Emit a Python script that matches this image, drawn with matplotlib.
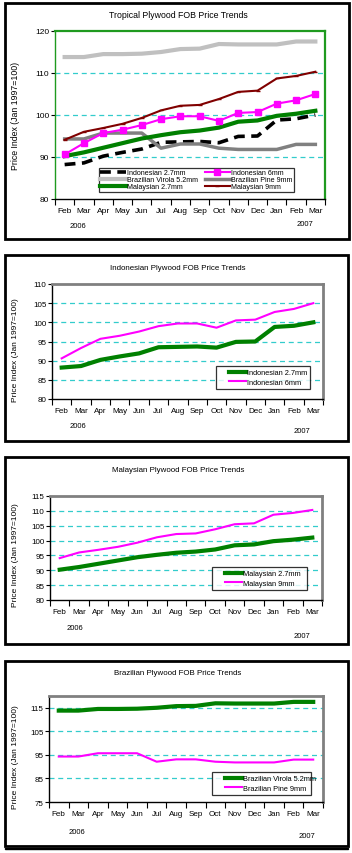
import numpy as np
import matplotlib
matplotlib.use('Agg')
import matplotlib.pyplot as plt
from matplotlib.patches import Rectangle
from matplotlib.lines import Line2D
from matplotlib.legend_handler import HandlerLine2D

W, H = 352, 854

months = ['Feb', 'Mar', 'Apr', 'May', 'Jun', 'Jul', 'Aug', 'Sep', 'Oct', 'Nov', 'Dec', 'Jan', 'Feb', 'Mar']
indo27 = [88.2, 88.6, 90.2, 91.1, 91.9, 93.5, 93.6, 93.7, 93.4, 94.9, 95.0, 98.8, 99.1, 100.0]
indo6 = [90.6, 93.3, 95.7, 96.5, 97.6, 99.0, 99.7, 99.7, 98.6, 100.5, 100.7, 102.7, 103.5, 105.0]
virola = [113.8, 113.8, 114.5, 114.5, 114.6, 115.0, 115.7, 115.8, 116.9, 116.8, 116.8, 116.8, 117.5, 117.5]
pine = [94.3, 94.3, 95.7, 95.7, 95.7, 92.1, 93.1, 93.1, 92.1, 91.8, 91.8, 91.8, 93.0, 93.0]
malay27 = [90.2, 91.1, 92.2, 93.3, 94.4, 95.2, 95.9, 96.3, 97.0, 98.4, 98.7, 99.8, 100.3, 101.0]
malay9 = [94.1, 96.0, 96.9, 97.9, 99.3, 101.1, 102.2, 102.4, 103.8, 105.5, 105.8, 108.7, 109.3, 110.3]

FONT1 = ['Liberation Sans', 'DejaVu Sans']
FONT2 = ['Liberation Sans Narrow', 'Liberation Sans', 'DejaVu Sans']
GRID = '#33cccc'

fig = plt.figure(figsize=(W / 100, H / 100), dpi=100)
fig.patch.set_facecolor('white')


def box(x0, y0, x1, y1):
    return [x0 / W, 1 - y1 / H, (x1 - x0) / W, (y1 - y0) / H]


def frame(x0, y0, x1, y1, lw=2.0):
    fig.patches.append(Rectangle((x0 / W, 1 - y1 / H), (x1 - x0) / W, (y1 - y0) / H,
                                 transform=fig.transFigure, fill=False, ec='black', lw=lw))


def ftext(x, y, s, **kw):
    fig.text(x / W, 1 - y / H, s, **kw)


def setup(ax, ylim, yticks, grid, font, spine_col, spine_lw, left_col='black', fs=6):
    x = np.arange(len(months))
    ax.set_xlim(-0.5, len(months) - 0.5)
    ax.set_ylim(*ylim)
    ax.set_xticks(np.arange(-0.5, len(months), 1))
    ax.set_xticklabels([])
    ax.set_xticks(x, minor=True)
    ax.set_xticklabels(months, minor=True, fontsize=fs, family=font)
    ax.tick_params(axis='x', which='major', direction='out', length=4, width=0.8)
    ax.tick_params(axis='x', which='minor', length=0, pad=6)
    ax.set_yticks(yticks)
    ax.set_yticklabels([str(v) for v in yticks], fontsize=fs, family=font)
    ax.tick_params(axis='y', direction='out', length=3, width=0.8, pad=1)
    for g in grid:
        ax.axhline(g, color=GRID, lw=0.9, ls=(0, (4, 3)), zorder=1)
    ax.spines['top'].set_color(spine_col)
    ax.spines['right'].set_color(spine_col)
    ax.spines['top'].set_linewidth(spine_lw)
    ax.spines['right'].set_linewidth(spine_lw)
    ax.spines['left'].set_color(left_col)
    ax.spines['left'].set_linewidth(1.0)
    ax.spines['bottom'].set_color('black')
    ax.spines['bottom'].set_linewidth(1.0)
    return x


def legend(ax, x0, y0, x1, y1, font, fs=5.3, **kw):
    lg = ax.legend(loc='upper left', bbox_to_anchor=box(x0, y0, x1, y1),
                   bbox_transform=fig.transFigure, mode='expand', frameon=True,
                   fancybox=False, borderaxespad=0, prop={'family': font, 'size': fs}, **kw)
    lg.get_frame().set_edgecolor('black')
    lg.get_frame().set_linewidth(0.9)
    return lg


small_leg = dict(handlelength=3.7, handletextpad=0.05, labelspacing=0.35, borderpad=0.4,
                 handler_map={Line2D: HandlerLine2D(xpad=1.3)})

# ---- panel 1: all products
frame(5, 4, 349, 240)
ax1 = fig.add_axes(box(55, 32, 325, 200))
x = setup(ax1, (80, 120), [80, 90, 100, 110, 120], [90, 100, 110], FONT1, '#1f9a1f', 1.6, left_col='#1f9a1f')
h1, = ax1.plot(x, indo27, color='black', lw=2.6, ls=(0, (3, 1.8)), label='Indonesian 2.7mm', zorder=3)
h2, = ax1.plot(x, indo6, color='#ff00ff', lw=1.5, marker='s', ms=4, label='Indonesian 6mm', zorder=4)
h3, = ax1.plot(x, virola, color='#c0c0c0', lw=3, label='Brazilian Virola 5.2mm', zorder=3)
h4, = ax1.plot(x, pine, color='#808080', lw=2.5, label='Brazilian Pine 9mm', zorder=3)
h5, = ax1.plot(x, malay27, color='#008000', lw=3, label='Malaysian 2.7mm', zorder=3)
h6, = ax1.plot(x, malay9, color='#800000', lw=1.5, marker='_', ms=3, label='Malaysian 9mm', zorder=3)
lg = legend(ax1, 99, 169, 294, 193, FONT1, fs=5.1, handles=[h1, h3, h5, h2, h4, h6], ncol=2,
            handlelength=3.6, handletextpad=0.15, columnspacing=0.1, labelspacing=0.0, borderpad=0.2)
ftext(178, 15, 'Tropical Plywood FOB Price Trends', ha='center', va='center', fontsize=6.3, family=FONT1)
ftext(16, 116, 'Price Index (Jan 1997=100)', rotation=90, ha='center', va='center', fontsize=6.3, family=FONT1)
ftext(78, 227, '2006', ha='center', va='center', fontsize=5.5, family=FONT1)
ftext(305, 224, '2007', ha='center', va='center', fontsize=5.5, family=FONT1)

# ---- panel 2: Indonesian
frame(5, 256, 348, 442)
ax2 = fig.add_axes(box(52, 285, 323, 400))
x = setup(ax2, (80, 110), [80, 85, 90, 95, 100, 105, 110], [85, 90, 95, 100, 105], FONT2, '#808080', 2.0, fs=5.8)
ax2.plot(x, indo27, color='#008000', lw=3, label='Indonesian 2.7mm', zorder=3)
ax2.plot(x, indo6, color='#ff00ff', lw=1.5, label='Indonesian 6mm', zorder=3)
legend(ax2, 216, 367, 310, 391, FONT2, **small_leg)
ftext(178, 268, 'Indonesian Plywood FOB Price Trends', ha='center', va='center', fontsize=5.7, family=FONT2)
ftext(16, 350, 'Price Index (Jan 1997=100)', rotation=90, ha='center', va='center', fontsize=6, family=FONT2)
ftext(78, 427, '2006', ha='center', va='center', fontsize=5.5, family=FONT2)
ftext(302, 432, '2007', ha='center', va='center', fontsize=5.5, family=FONT2)

# ---- panel 3: Malaysian
frame(5, 458, 348, 645)
ax3 = fig.add_axes(box(50, 497, 322, 601))
x = setup(ax3, (80, 115), [80, 85, 90, 95, 100, 105, 110, 115], [85, 90, 95, 100, 105, 110], FONT2, '#808080', 2.0, fs=5.8)
ax3.plot(x, malay27, color='#008000', lw=3, label='Malaysian 2.7mm', zorder=3)
ax3.plot(x, malay9, color='#ff00ff', lw=1.5, label='Malaysian 9mm', zorder=3)
legend(ax3, 212, 568, 307, 592, FONT2, **small_leg)
ftext(178, 471, 'Malaysian Plywood FOB Price Trends', ha='center', va='center', fontsize=5.7, family=FONT2)
ftext(16, 555, 'Price Index (Jan 1997=100)', rotation=90, ha='center', va='center', fontsize=6, family=FONT2)
ftext(75, 629, '2006', ha='center', va='center', fontsize=5.5, family=FONT2)
ftext(302, 637, '2007', ha='center', va='center', fontsize=5.5, family=FONT2)

# ---- panel 4: Brazilian
frame(5, 662, 348, 847)
fig.patches.append(Rectangle((5 / W, 1 - 850 / H), 343 / W, 0.001, transform=fig.transFigure,
                             fill=False, ec='black', lw=1.0))
ax4 = fig.add_axes(box(49, 697, 323, 803))
x = setup(ax4, (75, 120), [75, 85, 95, 105, 115], [85, 95, 105, 115], FONT2, '#808080', 2.0, fs=5.8)
ax4.plot(x, virola, color='#008000', lw=3, label='Brazilian Virola 5.2mm', zorder=3)
ax4.plot(x, pine, color='#ff00ff', lw=1.5, label='Brazilian Pine 9mm', zorder=3)
legend(ax4, 212, 773, 311, 798, FONT2, **small_leg)
ftext(178, 674, 'Brazilian Plywood FOB Price Trends', ha='center', va='center', fontsize=5.7, family=FONT2)
ftext(16, 757, 'Price Index (Jan 1997=100)', rotation=90, ha='center', va='center', fontsize=6, family=FONT2)
ftext(77, 833, '2006', ha='center', va='center', fontsize=5.5, family=FONT2)
ftext(307, 837, '2007', ha='center', va='center', fontsize=5.5, family=FONT2)

fig.savefig('out.png', dpi=100, facecolor='white')
